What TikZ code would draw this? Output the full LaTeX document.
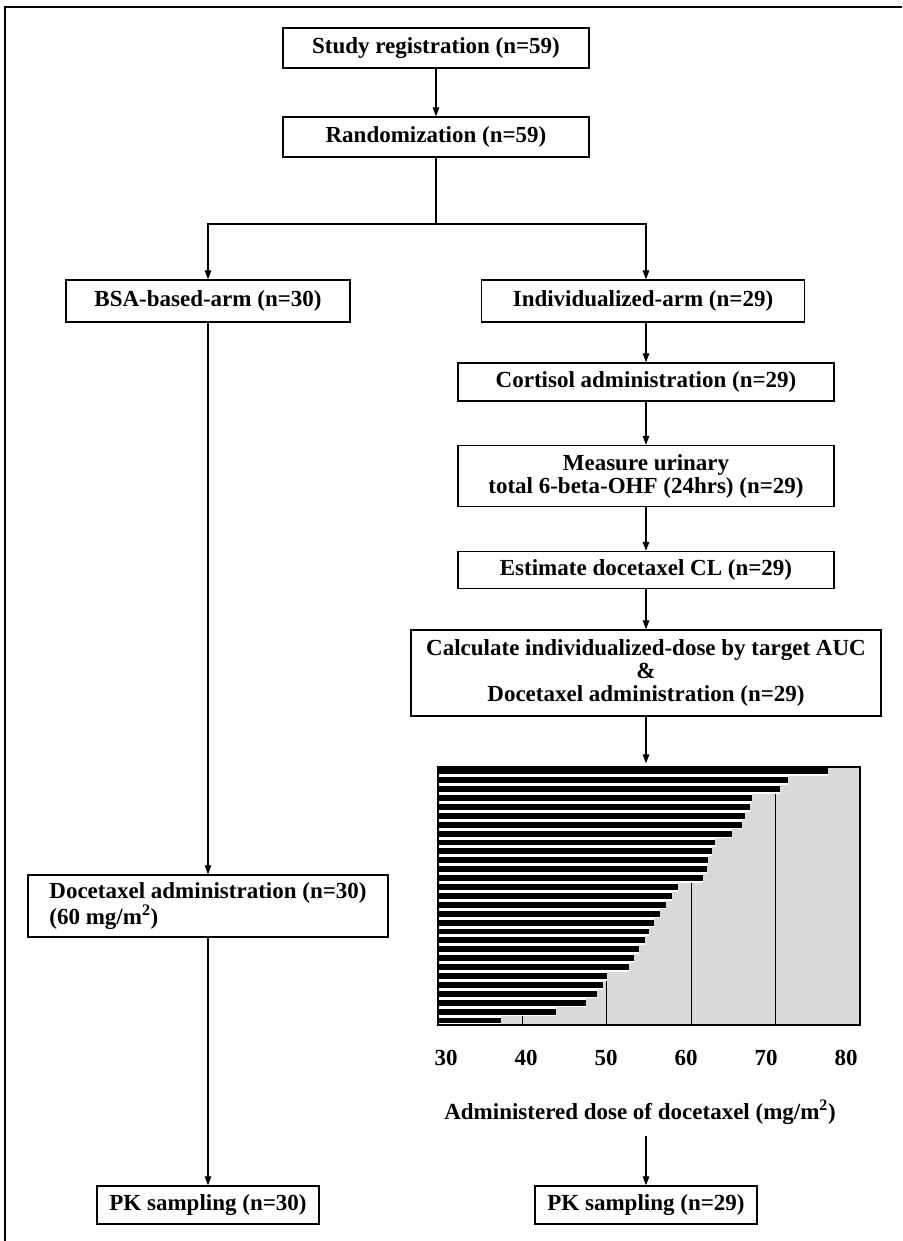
\documentclass[tikz,border=0pt]{standalone}
\usepackage{fontspec}
\setmainfont{Liberation Serif}
\usetikzlibrary{arrows.meta}

\begin{document}
\begin{tikzpicture}[x=1pt, y=-1pt,
		box/.style={draw, line width=1.3pt, align=center, inner xsep=6pt, inner ysep=3pt,
			font=\fontsize{23}{23}\selectfont\bfseries},
		flow/.style={line width=1.2pt, -{Triangle[length=9pt, width=6.5pt]}},
		label/.style={font=\fontsize{23}{23}\selectfont\bfseries}]
	\useasboundingbox (0, 0) rectangle (902, 1241);
	\draw[line width=1.6pt] (902, 7) -- (5, 7) -- (5, 1241);

	\draw (436, 48) 	node[box, minimum width=306, minimum height=40] (study) 	{Study registration (n=59)};
	\draw (436, 137) 	node[box, minimum width=306, minimum height=40] (rand) 	{Randomization (n=59)};
	\draw (208, 301) 	node[box, minimum width=284, minimum height=42] (bsa) 	{BSA-based-arm (n=30)};
	\draw (643, 301) 	node[box, minimum width=323, minimum height=42] (ind) 	{Individualized-arm (n=29)};
	\draw (646, 382) 	node[box, minimum width=376, minimum height=38] (cort) 	{Cortisol administration (n=29)};
	\draw (646, 476) 	node[box, minimum width=376, minimum height=61] (urine) 	{Measure urinary\\total 6-beta-OHF (24hrs) (n=29)};
	\draw (646, 570) 	node[box, minimum width=376, minimum height=37] (clear) 	{Estimate docetaxel CL (n=29)};
	\draw (646, 673) 	node[box, minimum width=470, minimum height=86] (calc) 	{Calculate individualized-dose by target AUC\\\&\\Docetaxel administration (n=29)};
	\draw (208, 906) 	node[box, align=left, minimum width=360, minimum height=62] (dose30) {Docetaxel administration (n=30)\\(60 mg/m\textsuperscript{2})};
	\draw (208, 1205) 	node[box, minimum width=222, minimum height=38] (pk30) 	{PK sampling (n=30)};
	\draw (646, 1205) 	node[box, minimum width=222, minimum height=38] (pk29) 	{PK sampling (n=29)};

	% dose chart
	\fill[gray!30] (438, 767) rectangle (860, 1025);
	\foreach \v in {40, 50, 60, 70}
		\draw[line width=1pt] ({438 + (\v-30)*8.44}, 767) -- ({438 + (\v-30)*8.44}, 1025);
	\foreach \d [count=\i] in {76.2, 71.5, 70.5, 67.2, 67.0, 66.4, 66.0, 64.8, 62.8, 62.5, 62.0, 61.9, 61.4, 58.4, 57.7,
			57.0, 56.3, 55.6, 55.0, 54.5, 53.8, 53.2, 52.6, 50.0, 49.5, 48.8, 47.5, 44.0, 37.5} {
		\pgfmathsetmacro\rowy{767 + (\i-1)*8.9}
		\pgfmathsetmacro\rgt{438 + (\d-30)*8.44}
		\fill[white] (438, \rowy) rectangle (\rgt, \rowy+8.9);
		\fill[black] (438, \rowy+1.3) rectangle (\rgt, \rowy+7.2);
	}
	\draw (649, 896) 	node[draw, line width=1.2pt, minimum width=422, minimum height=258, inner sep=0] (chart) {};
	\foreach \v [count=\k from 0] in {30, 40, 50, 60, 70, 80}
		\draw ({446 + \k*80}, 1058) node[label] (tick\v) {\v};
	\draw (640, 1112) 	node[label] (dosetitle) {Administered dose of docetaxel (mg/m\textsuperscript{2})};

	\coordinate (split) at (436, 224);
	\draw[flow] (study) -- (rand);
	\draw[line width=1.2pt] (rand) -- (split);
	\draw[flow] (split) -| (bsa);
	\draw[flow] (split) -| (cort |- ind.north);
	\draw[flow] (bsa) -- (dose30);
	\draw[flow] (dose30) -- (pk30);
	\draw[flow] (ind.south -| cort) -- (cort);
	\draw[flow] (cort) -- (urine);
	\draw[flow] (urine) -- (clear);
	\draw[flow] (clear) -- (calc);
	\draw[flow, shorten >=3pt] (calc) -- (calc |- chart.north);
	\draw[flow, shorten <=8pt] (dosetitle.south -| pk29) -- (pk29);
\end{tikzpicture}
\end{document}
